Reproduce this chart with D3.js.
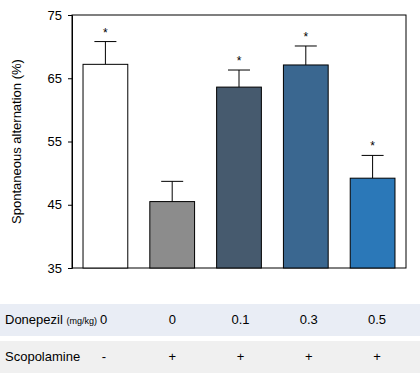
<!DOCTYPE html>
<html>
<head>
<meta charset="utf-8">
<script src="https://d3js.org/d3.v7.min.js"></script>
<style>
body { margin: 0; background: white; }
text { font-family: "Liberation Sans", Arial, sans-serif; }
</style>
</head>
<body>
<svg></svg>
<script>
var w = 420
var h = 375

var groups = ["g1", "g2", "g3", "g4", "g5"]
var means = [67.2, 45.5, 63.6, 67.1, 49.2]
var errs = [3.6, 3.2, 2.7, 3.0, 3.6]
var stars = [true, false, true, true, true]
var barColors = ["#ffffff", "#8c8c8c", "#465a6e", "#3a6790", "#2b78b8"]
var yTicks = [35, 45, 55, 65, 75]
var donepezil = ["0", "0", "0.1", "0.3", "0.5"]
var scopolamine = ["-", "+", "+", "+", "+"]

var svg = d3.select("svg")
	.attr("width", w)
	.attr("height", h)
	.style("background-color", "white")

var plotL = 72, plotR = 406, plotT = 15, plotB = 268

var x = d3.scaleBand()
	.domain(groups)
	.range([plotL, plotR])
	.paddingInner(0.33)
	.paddingOuter(0.165)

var y = d3.scaleLinear()
	.domain([35, 75])
	.range([plotB, plotT])

// table columns do not sit exactly under the bars
var col = d3.scalePoint()
	.domain(groups)
	.range([104, 377])

// frame
svg.append("rect")
	.attr("x", plotL)
	.attr("y", plotT)
	.attr("width", plotR - plotL)
	.attr("height", plotB - plotT)
	.attr("fill", "none")
	.attr("stroke", "black")
	.attr("stroke-width", 1)

// y axis
var yAxis = svg.append("g")
	.attr("transform", "translate(" + plotL + ",0)")
	.call(d3.axisLeft(y).tickValues(yTicks).tickSize(4).tickPadding(6))
yAxis.select(".domain").attr("stroke", "black")
yAxis.selectAll("text")
	.attr("font-size", 13)
	.attr("fill", "black")

svg.append("text")
	.attr("transform", "translate(21," + ((plotT + plotB) / 2) + ") rotate(-90)")
	.attr("text-anchor", "middle")
	.attr("font-size", 13)
	.text("Spontaneous alternation (%)")

// error bars
var cap = 11
groups.forEach(function(g, i) {
	var cx = x(g) + x.bandwidth() / 2
	svg.append("line")
		.attr("x1", cx).attr("x2", cx)
		.attr("y1", y(means[i])).attr("y2", y(means[i] + errs[i]))
		.attr("stroke", "black")
	svg.append("line")
		.attr("x1", cx - cap).attr("x2", cx + cap)
		.attr("y1", y(means[i] + errs[i])).attr("y2", y(means[i] + errs[i]))
		.attr("stroke", "black")
	if (stars[i]) {
		svg.append("text")
			.attr("x", cx)
			.attr("y", y(means[i] + errs[i]) - 5)
			.attr("text-anchor", "middle")
			.attr("font-size", 12)
			.text("*")
	}
})

// bars
svg.selectAll(".bar")
	.data(means)
	.enter()
	.append("rect")
	.attr("class", "bar")
	.attr("x", function(d, i) { return x(groups[i]) })
	.attr("y", function(d) { return y(d) })
	.attr("width", x.bandwidth())
	.attr("height", function(d) { return plotB - y(d) })
	.attr("fill", function(d, i) { return barColors[i] })
	.attr("stroke", "black")
	.attr("stroke-width", 1)

// table rows
svg.append("rect")
	.attr("x", 0).attr("y", 304)
	.attr("width", w).attr("height", 32)
	.attr("fill", "#e9edf5")
svg.append("rect")
	.attr("x", 0).attr("y", 341)
	.attr("width", w).attr("height", 32)
	.attr("fill", "#f0f0f0")

var lab1 = svg.append("text")
	.attr("x", 5).attr("y", 324)
	.attr("font-size", 13)
lab1.append("tspan").text("Donepezil ")
lab1.append("tspan").attr("font-size", 9).text("(mg/kg)")

svg.append("text")
	.attr("x", 5).attr("y", 361)
	.attr("font-size", 13)
	.text("Scopolamine")

donepezil.forEach(function(d, i) {
	svg.append("text")
		.attr("x", i == 0 ? 100 : col(groups[i]))
		.attr("y", 324)
		.attr("text-anchor", i == 0 ? "start" : "middle")
		.attr("font-size", 13)
		.text(d)
})
scopolamine.forEach(function(d, i) {
	svg.append("text")
		.attr("x", col(groups[i]))
		.attr("y", 361)
		.attr("text-anchor", "middle")
		.attr("font-size", 13)
		.text(d)
})
</script>
</body>
</html>
